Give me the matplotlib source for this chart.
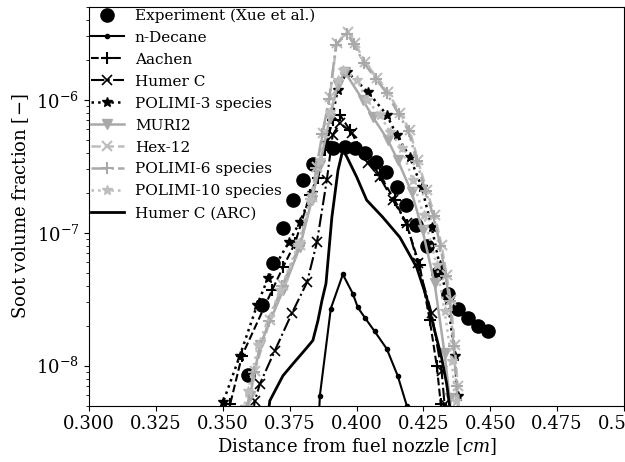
import matplotlib
matplotlib.use("Agg")
import matplotlib.pyplot as plt
from matplotlib.ticker import FixedLocator, FormatStrFormatter

plt.rcParams["font.family"] = ["DejaVu Serif"]
plt.rcParams["mathtext.fontset"] = "dejavuserif"
plt.rcParams["font.size"] = 13

# Measured soot volume fraction (Xue et al.)
exp_x = [0.3594, 0.3647, 0.3688, 0.3725, 0.3762, 0.3799, 0.3837, 0.3911, 0.3956,
         0.3993, 0.4031, 0.4072, 0.4109, 0.4150, 0.4184, 0.4221, 0.4262, 0.4303,
         0.4341, 0.4378, 0.4415, 0.4453, 0.4490]
exp_fv = [8.55e-9, 2.84e-8, 5.89e-8, 1.08e-7, 1.76e-7, 2.49e-7, 3.29e-7, 4.35e-7, 4.42e-7,
          4.35e-7, 3.98e-7, 3.40e-7, 2.86e-7, 2.20e-7, 1.61e-7, 1.14e-7, 7.91e-8, 4.94e-8,
          3.49e-8, 2.69e-8, 2.30e-8, 2.00e-8, 1.81e-8]

# Simulated profiles
decane_x = [0.3859, 0.3863, 0.3904, 0.3949, 0.3986, 0.4005, 0.4031, 0.4068, 0.4113, 0.4154, 0.4188, 0.4196]
decane_fv = [3.85e-9, 5.94e-9, 2.69e-8, 4.86e-8, 3.49e-8, 2.74e-8, 2.30e-8, 1.81e-8, 1.34e-8, 8.4e-9, 5.0e-9, 3.85e-9]

aachen_x = [0.3513, 0.3528, 0.3572, 0.3684, 0.3725, 0.3770, 0.3826, 0.3856, 0.3882, 0.3911, 0.3938,
            0.3975, 0.4031, 0.4087, 0.4143, 0.4188, 0.4236, 0.4274, 0.4300, 0.4315, 0.4319]
aachen_fv = [4.4e-9, 5.16e-9, 1.19e-8, 3.68e-8, 5.49e-8, 8.33e-8, 1.92e-7, 2.58e-7, 4.2e-7, 7.06e-7, 7.71e-7,
             5.94e-7, 3.84e-7, 2.72e-7, 1.76e-7, 1.14e-7, 5.69e-8, 2.19e-8, 1.0e-8, 5.16e-9, 4.4e-9]

humer_x = [0.3613, 0.3620, 0.3639, 0.3695, 0.3758, 0.3815, 0.3852, 0.3889, 0.3911, 0.3938,
           0.3983, 0.4042, 0.4087, 0.4136, 0.4188, 0.4229, 0.4281, 0.4318, 0.4329, 0.4333]
humer_fv = [4.4e-9, 5.44e-9, 7.31e-9, 1.3e-8, 2.47e-8, 4.23e-8, 8.48e-8, 2.49e-7, 5.44e-7, 6.70e-7,
            5.63e-7, 3.35e-7, 2.62e-7, 1.76e-7, 1.18e-7, 5.89e-8, 2.47e-8, 9.16e-9, 5.16e-9, 4.4e-9]

polimi3_x = [0.3494, 0.3501, 0.3564, 0.3628, 0.3669, 0.3747, 0.3788, 0.3833, 0.3889, 0.3930, 0.3964,
             0.4042, 0.4113, 0.4150, 0.4199, 0.4244, 0.4281, 0.4311, 0.4341, 0.4367, 0.4378, 0.4382]
polimi3_fv = [4.4e-9, 5.3e-9, 1.19e-8, 2.84e-8, 4.54e-8, 8.48e-8, 1.2e-7, 1.99e-7, 4.73e-7, 1.19e-6, 1.63e-6,
              1.15e-6, 7.71e-7, 5.44e-7, 3.72e-7, 2.2e-7, 1.10e-7, 5.69e-8, 3.1e-8, 1.19e-8, 5.94e-9, 4.4e-9]

muri2_x = [0.3583, 0.3602, 0.3639, 0.3725, 0.3788, 0.3833, 0.3863, 0.3900, 0.3930, 0.3956,
           0.4023, 0.4061, 0.4117, 0.4154, 0.4206, 0.4247, 0.4292, 0.4329, 0.4348, 0.4352]
muri2_fv = [4.6e-9, 5.94e-9, 1.42e-8, 3.68e-8, 7.78e-8, 1.76e-7, 3.23e-7, 7.31e-7, 1.30e-6, 1.63e-6,
            1.0e-6, 7.44e-7, 4.99e-7, 3.52e-7, 2.02e-7, 1.04e-7, 4.16e-8, 1.25e-8, 5.73e-9, 4.4e-9]

hex12_x = [0.3595, 0.3620, 0.3676, 0.3725, 0.3788, 0.3833, 0.3852, 0.3874, 0.3900, 0.3926, 0.3968,
           0.3993, 0.4031, 0.4076, 0.4117, 0.4162, 0.4199, 0.4229, 0.4262, 0.4292, 0.4318, 0.4337,
           0.4352, 0.4367, 0.4378, 0.4385]
hex12_fv = [4.6e-9, 9.16e-9, 2.19e-8, 4.02e-8, 8.05e-8, 1.85e-7, 3.12e-7, 5.63e-7, 1.05e-6, 2.69e-6, 3.26e-6,
            2.69e-6, 1.94e-6, 1.47e-6, 1.15e-6, 7.98e-7, 5.94e-7, 3.52e-7, 2.09e-7, 1.36e-7, 8.05e-8, 4.78e-8,
            3.1e-8, 1.42e-8, 7.06e-9, 4.4e-9]

polimi6_x = [0.3590, 0.3615, 0.3672, 0.3722, 0.3785, 0.3830, 0.3850, 0.3872, 0.3898, 0.3924, 0.3964,
             0.3990, 0.4027, 0.4072, 0.4113, 0.4158, 0.4195, 0.4225, 0.4258, 0.4288, 0.4314, 0.4333,
             0.4348, 0.4363, 0.4374, 0.4381]
polimi6_fv = [4.6e-9, 9.0e-9, 2.15e-8, 3.95e-8, 7.9e-8, 1.8e-7, 3.05e-7, 5.5e-7, 1.02e-6, 2.6e-6, 3.15e-6,
              2.62e-6, 1.9e-6, 1.44e-6, 1.12e-6, 7.8e-7, 5.8e-7, 3.45e-7, 2.05e-7, 1.33e-7, 7.9e-8, 4.7e-8,
              3.05e-8, 1.4e-8, 7.0e-9, 4.4e-9]

polimi10_x = [0.3576, 0.3595, 0.3632, 0.3714, 0.3781, 0.3826, 0.3863, 0.3900, 0.3930, 0.3949,
              0.4001, 0.4038, 0.4087, 0.4125, 0.4169, 0.4210, 0.4251, 0.4300, 0.4329, 0.4356, 0.4371, 0.4375]
polimi10_fv = [4.6e-9, 6.47e-9, 1.42e-8, 3.68e-8, 8.05e-8, 1.76e-7, 3.52e-7, 8.12e-7, 1.42e-6, 1.68e-6,
               1.42e-6, 1.0e-6, 7.71e-7, 5.73e-7, 4.35e-7, 2.49e-7, 1.36e-7, 5.69e-8, 2.6e-8, 1.09e-8, 5.44e-9, 4.4e-9]

arc_x = [0.3670, 0.3676, 0.3725, 0.3762, 0.3815, 0.3837, 0.3856, 0.3871, 0.3886, 0.3908, 0.3931, 0.3949,
         0.3964, 0.4001, 0.4038, 0.4098, 0.4162, 0.4225, 0.4262, 0.4292, 0.4318, 0.4337, 0.4348, 0.4352]
arc_fv = [4.4e-9, 5.45e-9, 8.4e-9, 1.03e-8, 1.37e-8, 1.55e-8, 2.19e-8, 3.10e-8, 4.16e-8, 1.31e-7, 2.96e-7, 4.2e-7,
          3.72e-7, 2.62e-7, 1.76e-7, 1.31e-7, 9.25e-8, 5.49e-8, 3.26e-8, 1.84e-8, 1.15e-8, 7.3e-9, 5.0e-9, 4.4e-9]

x_ticks = [0.300, 0.325, 0.350, 0.375, 0.400, 0.425, 0.450, 0.475, 0.500]

fig = plt.figure(figsize=(6.25, 4.62), dpi=100)
ax = fig.add_axes([0.1424, 0.1219, 0.8560, 0.8631])

grey = "#a9a9a9"
light = "#bdbdbd"

ax.plot(exp_x, exp_fv, "o", color="black", ms=9.5, ls="none", label="Experiment (Xue et al.)")
ax.plot(decane_x, decane_fv, "-", color="black", lw=1.5, marker=".", ms=6, label="n-Decane")
ax.plot(aachen_x, aachen_fv, "--", color="black", lw=1.5, marker="+", ms=8, mew=1.5, label="Aachen")
ax.plot(humer_x, humer_fv, "-.", color="black", lw=1.5, marker="x", ms=7, mew=1.2, label="Humer C")
ax.plot(polimi3_x, polimi3_fv, ":", color="black", lw=1.8, marker="*", ms=7, label="POLIMI-3 species")
ax.plot(muri2_x, muri2_fv, "-", color=grey, lw=1.8, marker="v", ms=7, label="MURI2")
ax.plot(hex12_x, hex12_fv, "--", color=light, lw=1.8, marker="x", ms=7, mew=1.5, label="Hex-12")
ax.plot(polimi6_x, polimi6_fv, "-.", color=grey, lw=1.8, marker="+", ms=8, mew=1.5, label="POLIMI-6 species")
ax.plot(polimi10_x, polimi10_fv, ":", color=light, lw=1.8, marker="*", ms=7, label="POLIMI-10 species")
ax.plot(arc_x, arc_fv, "-", color="black", lw=2.0, label="Humer C (ARC)")

ax.set_yscale("log")
ax.set_xlim(0.3, 0.5)
ax.set_ylim(5e-9, 5e-6)
ax.xaxis.set_major_locator(FixedLocator(x_ticks))
ax.xaxis.set_major_formatter(FormatStrFormatter("%.3f"))
ax.tick_params(labelsize=13)
ax.set_xlabel(r"Distance from fuel nozzle [$cm$]", fontsize=13, labelpad=2)
ax.set_ylabel(r"Soot volume fraction [$-$]", fontsize=13)

ax.legend(loc="upper left", frameon=False, borderaxespad=0.0, borderpad=0.1,
          labelspacing=0.52, handlelength=2.2, handletextpad=0.7, fontsize=11)

fig.savefig("out.png", dpi=100)
